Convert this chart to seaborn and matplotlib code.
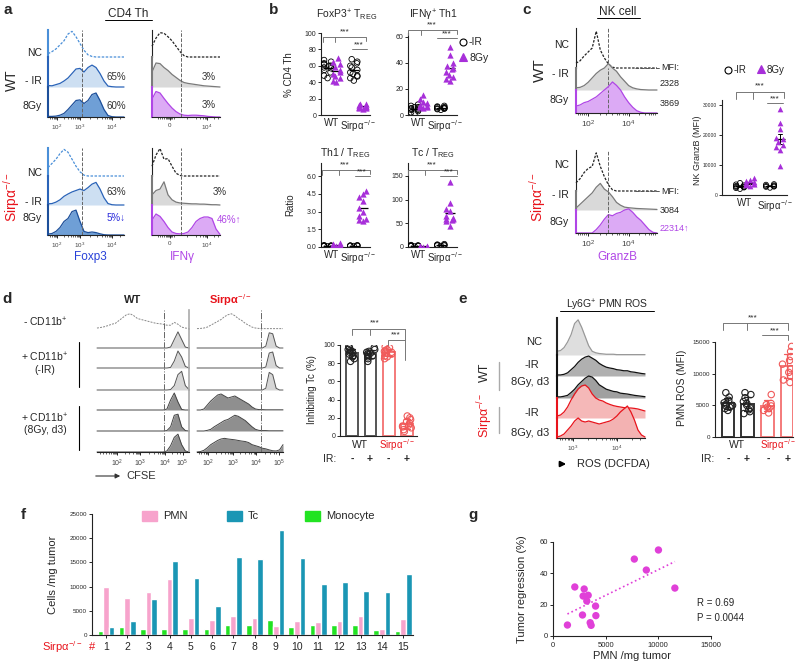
import warnings
warnings.filterwarnings("ignore")
import pandas as pd
import matplotlib
matplotlib.use("Agg")
import matplotlib.pyplot as plt
from matplotlib.lines import Line2D
from matplotlib.patches import Rectangle, FancyArrowPatch
import seaborn as sns

sns.set_style("ticks")
plt.rcParams["font.family"] = ["Liberation Sans", "DejaVu Sans"]
plt.rcParams["mathtext.fontset"] = "custom"
plt.rcParams["mathtext.rm"] = "Liberation Sans"
plt.rcParams["mathtext.it"] = "Liberation Sans:italic"
plt.rcParams["mathtext.bf"] = "Liberation Sans:bold"
plt.rcParams["axes.linewidth"] = 0.8

# ------------------------------------------------------------------ DATA
# panel a : flow histograms (relative heights on a channel grid)
foxp3_ch = [0, 4, 8, 12, 16, 20, 24, 28, 32, 36, 40, 44, 48, 52, 56, 60, 64, 68, 72, 76]
a_wt_nc = [0.12, 0.2, 0.3, 0.45, 0.6, 0.85, 0.95, 0.75, 0.5, 0.25, 0.08, 0.02, 0, 0, 0, 0, 0, 0, 0, 0]
a_wt_ir = [0.05, 0.04, 0.08, 0.12, 0.2, 0.3, 0.45, 0.6, 0.62, 0.5, 0.65, 0.73, 0.65, 0.45, 0.2, 0.03, 0.01, 0, 0, 0]
a_wt_8gy = [0.02, 0.02, 0.03, 0.06, 0.12, 0.25, 0.4, 0.55, 0.57, 0.45, 0.55, 0.75, 0.8, 0.55, 0.25, 0.05, 0.01, 0, 0, 0]
a_ko_nc = [0.3, 0.45, 0.6, 0.8, 0.95, 0.85, 0.6, 0.35, 0.15, 0.03, 0, 0, 0, 0, 0, 0, 0, 0, 0, 0]
a_ko_ir = [0.04, 0.05, 0.1, 0.18, 0.3, 0.38, 0.45, 0.5, 0.55, 0.5, 0.6, 0.72, 0.78, 0.55, 0.25, 0.05, 0.01, 0, 0, 0]
a_ko_8gy = [0.03, 0.05, 0.12, 0.25, 0.45, 0.55, 0.78, 0.83, 0.45, 0.12, 0.08, 0.1, 0.08, 0.04, 0.01, 0, 0, 0, 0, 0]

ifng_ch = [0, 4, 8, 12, 16, 20, 24, 28, 32, 36, 40, 44, 48, 52, 56, 60, 64, 68]
i_wt_nc = [0.4, 0.7, 0.9, 0.88, 0.75, 0.6, 0.4, 0.2, 0.05, 0, 0, 0, 0, 0, 0, 0, 0, 0]
i_wt_ir = [0.5, 0.8, 0.78, 0.65, 0.55, 0.42, 0.32, 0.22, 0.15, 0.12, 0.1, 0.08, 0.06, 0.04, 0.03, 0.02, 0.01, 0]
i_wt_8gy = [0.6, 0.85, 0.8, 0.62, 0.45, 0.3, 0.18, 0.1, 0.06, 0.05, 0.06, 0.06, 0.05, 0.04, 0.02, 0.01, 0, 0]
i_ko_nc = [0.35, 0.75, 0.98, 0.6, 0.62, 0.35, 0.1, 0.02, 0, 0, 0, 0, 0, 0, 0, 0, 0, 0]
i_ko_ir = [0.35, 0.5, 0.55, 0.8, 0.35, 0.18, 0.1, 0.07, 0.06, 0.05, 0.04, 0.04, 0.03, 0.03, 0.02, 0.01, 0.01, 0]
i_ko_8gy = [0.5, 0.7, 0.62, 0.45, 0.25, 0.1, 0.05, 0.04, 0.05, 0.1, 0.25, 0.45, 0.55, 0.6, 0.6, 0.55, 0.2, 0.02]

# panel b : per-mouse values
b_foxp3_wt_ir = [45, 48, 52, 55, 57, 58, 60, 62, 63, 65, 67, 60]
b_foxp3_wt_8gy = [40, 42, 45, 48, 50, 53, 55, 58, 62, 65, 70]
b_foxp3_ko_ir = [42, 45, 47, 48, 50, 52, 55, 58, 60, 63, 65, 68]
b_foxp3_ko_8gy = [7, 8, 9, 10, 10, 11, 12, 13, 14, 10]
b_ifng_wt_ir = [1, 2, 3, 4, 4, 5, 5, 6, 6, 7, 8, 5]
b_ifng_wt_8gy = [5, 6, 7, 7, 8, 9, 10, 12, 15, 6]
b_ifng_ko_ir = [4, 4.5, 5, 5, 5.5, 6, 6, 6.5, 7, 5]
b_ifng_ko_8gy = [26, 28, 29, 31, 33, 35, 36, 38, 40, 46, 52]
b_th1_wt_ir = [0.05, 0.08, 0.1, 0.1, 0.12, 0.15, 0.08, 0.1]
b_th1_wt_8gy = [0.1, 0.15, 0.2, 0.25, 0.3, 0.2, 0.15]
b_th1_ko_ir = [0.08, 0.1, 0.1, 0.12, 0.15, 0.1, 0.1]
b_th1_ko_8gy = [2.2, 2.3, 2.4, 2.6, 3.0, 3.3, 3.9, 4.2, 4.5, 4.7]
b_tc_wt_ir = [1, 2, 2, 3, 3, 4, 2, 3]
b_tc_wt_8gy = [0.5, 1, 1, 1.5, 2, 1]
b_tc_ko_ir = [2, 3, 4, 4, 5, 6, 3]
b_tc_ko_8gy = [45, 55, 57, 58, 60, 62, 65, 75, 80, 92, 138]

# panel c
granzb_ch = [0, 4, 8, 12, 16, 20, 24, 28, 32, 36, 40, 44, 48, 52, 56, 60, 64, 68, 72, 76, 80]
c_wt_nc = [0.12, 0.18, 0.3, 0.4, 0.5, 0.92, 0.45, 0.25, 0.1, 0.02, 0, 0, 0, 0, 0, 0, 0, 0, 0, 0, 0]
c_wt_ir = [0.1, 0.12, 0.2, 0.35, 0.55, 0.75, 0.9, 1.0, 1.2, 1.0, 0.85, 0.6, 0.4, 0.2, 0.1, 0.05, 0.02, 0.01, 0, 0, 0]
c_wt_8gy = [0.3, 0.35, 0.45, 0.5, 0.6, 0.7, 0.85, 1.0, 1.15, 1.35, 1.2, 1.0, 0.7, 0.45, 0.25, 0.1, 0.03, 0, 0, 0, 0]
c_ko_nc = [0.2, 0.3, 0.45, 0.55, 0.6, 0.93, 0.6, 0.35, 0.15, 0.03, 0, 0, 0, 0, 0, 0, 0, 0, 0, 0, 0]
c_ko_ir = [0.1, 0.3, 0.5, 0.7, 0.9, 1.2, 1.4, 1.1, 0.95, 0.7, 0.4, 0.25, 0.15, 0.12, 0.1, 0.08, 0.07, 0.06, 0.05, 0.04, 0.03]
c_ko_8gy = [0, 0, 0, 0, 0, 0.15, 0.35, 0.6, 0.8, 0.75, 0.85, 0.9, 1.0, 1.05, 0.9, 0.7, 0.55, 0.35, 0.15, 0.03, 0]
c_mfi_wt_ir = [2000, 2300, 2500, 2700, 2800, 3000, 3200, 3500, 4000, 2600]
c_mfi_wt_8gy = [3000, 3200, 3500, 3700, 4000, 4200, 4500, 5000, 5500, 3800]
c_mfi_ko_ir = [2400, 2700, 2900, 3000, 3200, 3400, 3600, 2800]
c_mfi_ko_8gy = [9500, 14800, 15800, 16500, 17500, 18500, 19000, 22000, 24000, 28500]

# panel d
cfse_ch = [0, 4, 8, 12, 16, 20, 24, 28, 32, 36, 40, 44, 48, 52, 56, 60, 64, 68, 72, 76, 80, 84, 88, 92, 96, 100]
d_wt_rows = [
    [0.05, 0.08, 0.12, 0.18, 0.25, 0.3, 0.45, 0.6, 0.75, 0.8, 0.7, 0.55, 0.5, 0.45, 0.4, 0.35, 0.3, 0.28, 0.25, 0.2, 0.2, 0.35, 0.25, 0.1, 0.05, 0.03],
    [0, 0, 0, 0, 0, 0, 0, 0, 0, 0, 0, 0, 0, 0, 0, 0, 0, 0, 0, 0, 0.05, 0.45, 0.85, 0.45, 0.05, 0],
    [0, 0, 0, 0, 0, 0, 0, 0, 0, 0, 0, 0, 0, 0, 0, 0, 0, 0, 0, 0, 0.03, 0.35, 0.85, 0.55, 0.08, 0],
    [0, 0, 0, 0, 0, 0, 0, 0, 0, 0, 0, 0, 0, 0, 0, 0, 0, 0, 0, 0, 0.02, 0.2, 0.7, 0.85, 0.2, 0.02],
    [0, 0, 0, 0, 0, 0, 0, 0, 0, 0, 0, 0, 0, 0, 0, 0, 0, 0, 0, 0.05, 0.5, 0.85, 0.4, 0.03, 0, 0],
    [0, 0, 0, 0, 0, 0, 0, 0, 0, 0, 0, 0, 0, 0, 0, 0, 0, 0, 0, 0.02, 0.2, 0.75, 0.8, 0.2, 0.02, 0],
    [0, 0, 0, 0, 0, 0, 0, 0, 0, 0, 0, 0, 0, 0, 0, 0, 0, 0, 0, 0.05, 0.3, 0.7, 0.85, 0.35, 0.05, 0],
]
d_ko_rows = [
    [0.02, 0.03, 0.05, 0.1, 0.2, 0.3, 0.4, 0.5, 0.65, 0.75, 0.8, 0.7, 0.55, 0.45, 0.3, 0.2, 0.1, 0.05, 0.03, 0.02, 0.02, 0.02, 0.02, 0.02, 0.02, 0.02],
    [0, 0, 0, 0, 0, 0, 0, 0, 0, 0, 0, 0, 0, 0, 0, 0, 0, 0, 0, 0, 0.1, 0.8, 0.75, 0.1, 0, 0],
    [0, 0, 0, 0, 0, 0, 0, 0, 0, 0, 0, 0, 0, 0, 0, 0, 0, 0, 0, 0, 0.05, 0.75, 0.8, 0.12, 0, 0],
    [0, 0, 0, 0, 0, 0, 0, 0, 0, 0, 0, 0, 0, 0, 0, 0, 0, 0, 0, 0, 0.08, 0.8, 0.7, 0.08, 0, 0],
    [0, 0, 0.05, 0.25, 0.45, 0.6, 0.75, 0.8, 0.7, 0.6, 0.65, 0.7, 0.6, 0.5, 0.4, 0.3, 0.15, 0.05, 0.02, 0.02, 0.01, 0.01, 0.01, 0.01, 0.01, 0.01],
    [0, 0, 0, 0.03, 0.08, 0.2, 0.3, 0.4, 0.5, 0.55, 0.65, 0.75, 0.7, 0.6, 0.5, 0.35, 0.2, 0.08, 0.03, 0.02, 0.02, 0.01, 0.01, 0.01, 0.01, 0.01],
    [0, 0.02, 0.08, 0.2, 0.35, 0.45, 0.55, 0.62, 0.65, 0.62, 0.6, 0.58, 0.55, 0.52, 0.5, 0.45, 0.35, 0.3, 0.25, 0.18, 0.15, 0.1, 0.06, 0.05, 0.1, 0.35],
]
d_wt_ir = [82, 85, 87, 88, 90, 91, 92, 93, 94, 95, 97, 98]
d_wt_8gy = [82, 85, 87, 88, 89, 90, 91, 92, 93, 95, 97]
d_ko_ir = [85, 87, 88, 90, 91, 92, 93, 94, 95, 97, 98]
d_ko_8gy = [5, 7, 9, 10, 11, 12, 14, 16, 18, 20, 22]

# panel e
ros_ch = [0, 4, 8, 12, 16, 20, 24, 28, 32, 36, 40, 44, 48, 52, 56, 60, 64, 68, 72, 76, 80, 84, 88, 92, 96, 100]
e_nc = [0.1, 0.12, 0.2, 0.35, 0.55, 0.85, 0.95, 0.75, 0.5, 0.25, 0.1, 0.06, 0.04, 0.03, 0.02, 0.02, 0.02, 0.01, 0.01, 0.01, 0.01, 0.01, 0.01, 0.01, 0.01, 0.01]
e_wt_ir = [0.05, 0.05, 0.08, 0.15, 0.3, 0.45, 0.65, 0.8, 0.9, 0.95, 0.85, 0.75, 0.6, 0.5, 0.42, 0.38, 0.35, 0.3, 0.28, 0.25, 0.25, 0.2, 0.18, 0.15, 0.12, 0.1]
e_wt_8gy = [0.05, 0.05, 0.08, 0.12, 0.25, 0.4, 0.6, 0.75, 0.9, 1.0, 0.95, 0.8, 0.6, 0.5, 0.4, 0.35, 0.3, 0.28, 0.22, 0.2, 0.18, 0.15, 0.12, 0.1, 0.08, 0.06]
e_ko_ir = [0.1, 0.15, 0.3, 0.55, 0.9, 1.2, 1.45, 1.6, 1.65, 1.5, 1.2, 1.0, 0.9, 0.85, 0.75, 0.68, 0.62, 0.58, 0.55, 0.52, 0.5, 0.5, 0.48, 0.45, 0.4, 0.35]
e_ko_8gy = [0.05, 0.1, 0.2, 0.4, 0.6, 0.85, 1.0, 0.85, 0.8, 0.85, 0.8, 0.75, 0.7, 0.75, 0.8, 0.85, 0.95, 1.1, 1.3, 1.45, 1.6, 1.3, 0.9, 0.4, 0.15, 0.05]
e_mfi_wt_ir = [4200, 4500, 4700, 4900, 5000, 5200, 5400, 5800, 6300, 7000]
e_mfi_wt_8gy = [3700, 4000, 4300, 4600, 5000, 5300, 5600, 6200, 6700, 7000]
e_mfi_ko_ir = [3800, 4200, 4500, 4700, 4900, 5100, 5300, 6700]
e_mfi_ko_8gy = [8600, 9000, 9600, 10200, 10800, 11500, 12100, 12700, 13500, 14300]

# panel f
f_samples = ["1", "2", "3", "4", "5", "6", "7", "8", "9", "10", "11", "12", "13", "14", "15"]
f_pmn = [10000, 7700, 8900, 11600, 3500, 3100, 3900, 3600, 1900, 2800, 2700, 2900, 4000, 1300, 3300]
f_tc = [1700, 2800, 7400, 15300, 11800, 6000, 16200, 15600, 21600, 16000, 10600, 11000, 9100, 8800, 12700]
f_mono = [850, 1700, 1300, 1300, 1300, 1200, 2000, 2000, 3000, 1600, 2000, 2100, 2000, 1000, 900]

# panel g
g_pmn = [1370, 2070, 2800, 2860, 2960, 3210, 3340, 3530, 3620, 4040, 4070, 7720, 8860, 10010, 11570]
g_regression = [7.0, 31.3, 13.4, 25.5, 30.0, 22.3, 26.0, 8.5, 6.8, 19.1, 13.0, 49.1, 42.1, 54.9, 30.6]

# ------------------------------------------------------------------ STYLE
BL_NC, BL_E, BL_L, BL_D, BL_M = "#4a8fd8", "#2a63b8", "#cddff2", "#1d4f9a", "#6f9fd6"
GR_F, GR_E = "#d9d9d9", "#7a7a7a"
PU_F, PU_E, PU = "#dcaaf5", "#b046e6", "#a72fd9"
RED, SAL = "#e8141c", "#f47a7a"
PMN_C, TC_C, MONO_C, G_C = "#f7a3cc", "#1a96b4", "#22e322", "#e040d8"
SIRP = "Sirpα$^{-/-}$"
DOT = (0, (2, 1.2))

W, H = 799, 662
fig = plt.figure(figsize=(W / 100, H / 100), dpi=100)
fig.patch.set_facecolor("white")


def ax_px(l, t, r, b):
    return fig.add_axes([l / W, 1 - b / H, (r - l) / W, (b - t) / H])


def T(x, y, s, size=7, ha="center", va="center", **kw):
    fig.text(x / W, 1 - y / H, s, fontsize=size, ha=ha, va=va, **kw)


def L(xs, ys, color="k", lw=0.7, ls="-"):
    fig.add_artist(Line2D([x / W for x in xs], [1 - y / H for y in ys], color=color,
                          lw=lw, ls=ls, transform=fig.transFigure))


def M(x, y, marker, color, ms=5, filled=True):
    fig.add_artist(Line2D([x / W], [1 - y / H], marker=marker, ms=ms,
                          mfc=color if filled else "none", mec=color, mew=0.8,
                          ls="none", transform=fig.transFigure))


def hist_row(l, t, r, b, ch, vals, xmax, edge, fill=None, ls="-", lw=0.9,
             left=None, left_lw=1.5, vline=None, vls="--"):
    ax = ax_px(l, t, r, b)
    ax.set_xlim(0, xmax)
    ax.set_ylim(0, 1)
    ax.patch.set_alpha(0)
    for s in ["top", "right", "bottom", "left"]:
        ax.spines[s].set_visible(False)
    if left:
        ax.spines["left"].set_visible(True)
        ax.spines["left"].set_color(left)
        ax.spines["left"].set_linewidth(left_lw)
    ax.set_xticks([])
    ax.set_yticks([])
    if fill:
        ax.fill_between(ch, vals, 0, color=fill, lw=0, clip_on=False)
    ax.plot(ch, vals, color=edge, ls=ls, lw=lw, clip_on=False)
    if vline is not None:
        ax.axvline(vline, color="#666", ls=vls, lw=0.7)
    return ax


def hist_axis(ax, ticks, labels, minor, size=4.5):
    ax.spines["bottom"].set_visible(True)
    ax.spines["bottom"].set_linewidth(0.8)
    ax.spines["bottom"].set_color("#222")
    ax.set_xticks(ticks)
    ax.set_xticklabels(labels, fontsize=size, color="#444")
    ax.set_xticks(minor, minor=True)
    ax.tick_params(axis="x", which="major", length=2.5, width=0.7, pad=1.5)
    ax.tick_params(axis="x", which="minor", length=1.5, width=0.5)


def block(l, r, xmax, rows, ch, curves, styles, vline, ticks, labels, minor, size=4.5, vls="--"):
    axs = [hist_row(l, t, r, b, ch, v, xmax, vline=vline, vls=vls, **st)
           for (t, b), v, st in zip(rows, curves, styles)]
    hist_axis(axs[-1], ticks, labels, minor, size)
    return axs


# ------------------------------------------------------------------ PANEL a
T(8, 10, "a", 11, weight="bold")
T(128, 14, "CD4 Th", 8.5)
L([105, 152], [20, 20])
fox_st = [dict(edge=BL_NC, ls=DOT, left=BL_NC), dict(edge=BL_E, fill=BL_L, left=BL_E),
          dict(edge=BL_D, fill=BL_M, left=BL_D)]
ifn_st = [dict(edge="#222", ls=DOT, left="#222", left_lw=0.8), dict(edge=GR_E, fill=GR_F, left=GR_E),
          dict(edge=PU_E, fill=PU_F, left=PU_E)]
rowsA1 = [(30, 57), (57, 87), (87, 117)]
rowsA2 = [(148, 176), (176, 205), (205, 235)]
fox_ticks, fox_lab = [9, 32, 64], ["$10^{2}$", "$10^{3}$", "$10^{4}$"]
fox_minor = [2, 4, 6, 7, 8, 16, 20, 23, 25, 27, 29, 30, 31, 42, 49, 54, 57, 59, 61, 62, 63, 72]
ifn_ticks, ifn_lab = [18, 55], ["0", "$10^{4}$"]
ifn_minor = [6, 8, 10, 12, 14, 15, 16, 17, 19, 20, 22, 35, 44, 48, 51, 53, 54, 62, 66]
block(48, 124, 76, rowsA1, foxp3_ch, [a_wt_nc, a_wt_ir, a_wt_8gy], fox_st, 34, fox_ticks, fox_lab, fox_minor)
block(48, 124, 76, rowsA2, foxp3_ch, [a_ko_nc, a_ko_ir, a_ko_8gy], fox_st, 34, fox_ticks, fox_lab, fox_minor)
block(152, 220, 68, rowsA1, ifng_ch, [i_wt_nc, i_wt_ir, i_wt_8gy], ifn_st, 29, ifn_ticks, ifn_lab, ifn_minor)
block(152, 220, 68, rowsA2, ifng_ch, [i_ko_nc, i_ko_ir, i_ko_8gy], ifn_st, 29, ifn_ticks, ifn_lab, ifn_minor)
for y, s in [(53, "NC"), (81, "- IR"), (106, "8Gy"), (173, "NC"), (202, "- IR"), (218, "8Gy")]:
    T(42, y, s, 7.5, ha="right", color="#222")
T(12, 80, "WT", 10, rotation=90)
T(12, 197, SIRP, 10, rotation=90, color=RED)
T(116, 77, "65%", 7, color="#333")
T(116, 106, "60%", 7, color="#333")
T(116, 192, "63%", 7, color="#333")
T(116, 218, "5%↓", 7, color="#2b2bdc")
T(209, 77, "3%", 7, color="#333")
T(209, 105, "3%", 7, color="#333")
T(220, 192, "3%", 7, color="#333")
T(229, 220, "46%↑", 7, color=PU_E)
T(90, 257, "Foxp3", 8.5, color="#2740d8")
T(182, 257, "IFNγ", 8.5, color=PU_E)

# ------------------------------------------------------------------ PANEL b
ORD5 = ["WT -IR", "WT 8Gy", "gap", "Sirp -IR", "Sirp 8Gy"]


def style_stat(ax, yticks, ylabels=None, ysize=5):
    sns.despine(ax=ax)
    for s in ["left", "bottom"]:
        ax.spines[s].set_linewidth(0.8)
        ax.spines[s].set_color("#222")
    ax.set_yticks(yticks)
    if ylabels is not None:
        ax.set_yticklabels(ylabels)
    ax.tick_params(axis="y", labelsize=ysize, length=2.5, width=0.7, pad=1)
    ax.set_xlabel("")
    ax.set_ylabel("")


def scatter_panel(box, ylim, xlim, wt_ir, wt_8, ko_ir, ko_8, yticks, ylabels=None,
                  ysize=5, err=None, msize=4):
    ax = ax_px(*box)
    df_ir = pd.DataFrame({"g": ["WT -IR"] * len(wt_ir) + ["Sirp -IR"] * len(ko_ir), "v": wt_ir + ko_ir})
    df_8 = pd.DataFrame({"g": ["WT 8Gy"] * len(wt_8) + ["Sirp 8Gy"] * len(ko_8), "v": wt_8 + ko_8})
    n0 = len(ax.collections)
    sns.swarmplot(data=df_ir, x="g", y="v", order=ORD5, color="k", size=msize, ax=ax)
    for c in ax.collections[n0:]:
        c.set_facecolor("none")
        c.set_edgecolor("k")
        c.set_linewidth(0.6)
    sns.swarmplot(data=df_8, x="g", y="v", order=ORD5, color=PU, marker="^", size=msize + 0.5, ax=ax)
    df_all = pd.concat([df_ir, df_8])
    sns.pointplot(data=df_all, x="g", y="v", order=ORD5, estimator="mean", errorbar=err,
                  capsize=0.4 if err else 0, color="k", marker="_", markersize=7,
                  markeredgewidth=0.9, linestyle="none", err_kws={"linewidth": 0.7}, ax=ax)
    ax.set_ylim(*ylim)
    ax.set_xlim(*xlim)
    style_stat(ax, yticks, ylabels, ysize)
    ax.set_xticks([0.5, 3.5])
    ax.set_xticklabels(["WT", SIRP], fontsize=7)
    ax.tick_params(axis="x", length=0, pad=2)
    return ax


T(274, 10, "b", 11, weight="bold")
XL = (-0.75, 4.85)
scatter_panel((321, 33, 370, 115), (0, 100), XL, b_foxp3_wt_ir, b_foxp3_wt_8gy, b_foxp3_ko_ir,
              b_foxp3_ko_8gy, [0, 20, 40, 60, 80, 100])
scatter_panel((408, 33, 457, 115), (0, 63), XL, b_ifng_wt_ir, b_ifng_wt_8gy, b_ifng_ko_ir,
              b_ifng_ko_8gy, [0, 20, 40, 60])
scatter_panel((321, 163, 370, 247), (0, 7.1), XL, b_th1_wt_ir, b_th1_wt_8gy, b_th1_ko_ir,
              b_th1_ko_8gy, [0, 1.5, 3, 4.5, 6], ["0.0", "1.5", "3.0", "4.5", "6.0"])
scatter_panel((408, 163, 457, 247), (0, 177), XL, b_tc_wt_ir, b_tc_wt_8gy, b_tc_ko_ir,
              b_tc_ko_8gy, [0, 50, 100, 150])
T(347, 15, "FoxP3$^{+}$ T$_{\\mathrm{REG}}$", 7.5)
T(433, 15, "IFNγ$^{+}$ Th1", 7.5)
T(345, 153, "Th1 / T$_{\\mathrm{REG}}$", 7.5)
T(433, 153, "Tc / T$_{\\mathrm{REG}}$", 7.5)
T(289, 75, "% CD4 Th", 7, rotation=90)
T(290, 205, "Ratio", 7, rotation=90)
M(463, 42, "o", "k", 5, False)
T(469, 42, "-IR", 7.5, ha="left")
M(463, 57, "^", PU, 6)
T(469, 58, "8Gy", 7.5, ha="left")
GRB = "#777"
for (x0, xm, x1, y, ts_x, ts_y) in [(323, 335, 366, 37, 345, 32), (408, 421, 457, 30, 432, 25),
                                    (322, 339, 370, 170, 345, 165), (408, 425, 457, 170, 432, 165)]:
    L([x0, x0, x1, x1], [y + 5, y, y, y + 4], color=GRB)
    L([xm, xm], [y, y + 5], color=GRB)
    T(ts_x, ts_y, "***", 6)
for (x0, x1, y, ts_x) in [(352, 367, 49, 359), (437, 457, 38, 447), (355, 370, 176, 362), (440, 457, 176, 449)]:
    L([x0, x1], [y, y], color=GRB)
    T(ts_x, y - 4, "***", 6)

# ------------------------------------------------------------------ PANEL c
T(527, 10, "c", 11, weight="bold")
T(618, 12, "NK cell", 8.5)
L([597, 640], [18, 18])
gz_ticks, gz_lab = [12, 52], ["$10^{2}$", "$10^{4}$"]
gz_minor = [2, 4, 6, 8, 10, 24, 30, 36, 40, 42, 46, 48, 50, 62, 68, 72, 74, 76, 78]
block(576, 657, 80, [(28, 68), (68, 90), (90, 113)], granzb_ch, [c_wt_nc, c_wt_ir, c_wt_8gy],
      ifn_st, 32, gz_ticks, gz_lab, gz_minor, size=6)
block(576, 657, 80, [(150, 191), (191, 210), (210, 233)], granzb_ch, [c_ko_nc, c_ko_ir, c_ko_8gy],
      ifn_st, 32, gz_ticks, gz_lab, gz_minor, size=6)
for y, s in [(45, "NC"), (74, "- IR"), (100, "8Gy"), (165, "NC"), (195, "- IR"), (222, "8Gy")]:
    T(569, y, s, 7.5, ha="right", color="#222")
T(540, 70, "WT", 11, rotation=90)
T(538, 197, SIRP, 10, rotation=90, color=RED)
L([635, 660], [68, 68], ls="--", color="#555")
L([635, 660], [191, 191], ls="--", color="#555")
T(670, 68, "MFI:", 6.5)
T(670, 83, "2328", 6.5)
T(670, 103, "3869", 6.5)
T(670, 192, "MFI:", 6.5)
T(670, 211, "3084", 6.5)
T(674, 228, "22314↑", 6.5, color=PU_E)
T(617, 257, "GranzB", 8.5, color=PU_E)
scatter_panel((722, 100, 787, 195), (0, 31500), (-1.8, 4.7), c_mfi_wt_ir, c_mfi_wt_8gy, c_mfi_ko_ir,
              c_mfi_ko_8gy, [0, 10000, 20000, 30000], ysize=3.6, err="se", msize=3.6)
T(698, 150, "NK GranzB (MFI)", 6.5, rotation=90)
M(728, 70, "o", "k", 5, False)
T(734, 70, "-IR", 7, ha="left")
M(761, 69, "^", PU, 6)
T(767, 70, "8Gy", 7, ha="left")
L([736, 736, 784, 784], [99, 92, 92, 98], color=GRB)
L([753, 753], [92, 99], color=GRB)
T(760, 86, "***", 6)
L([767, 783], [103, 103], color=GRB)
T(775, 99, "***", 6)

# ------------------------------------------------------------------ PANEL d
T(7, 299, "d", 11, weight="bold")
T(133, 300, "WT", 8, weight="bold")
T(230, 300, SIRP, 8, weight="bold", color=RED)
d_rows = [(310, 329), (329, 348), (348, 368), (368, 390), (390, 410), (410, 431), (431, 452)]
d_st = ([dict(edge="#888", ls=DOT, lw=0.7)] + [dict(edge="#555", fill="#d6d6d6", lw=0.7)] * 3 +
        [dict(edge="#444", fill="#8f8f8f", lw=0.7)] * 3)
cf_lab = ["$10^{2}$", "$10^{3}$", "$10^{4}$", "$10^{5}$"]
wt_axes = block(97, 189, 100, d_rows, cfse_ch, d_wt_rows, d_st, 73, [22, 47, 74, 93], cf_lab,
                [3, 7, 10, 13, 15, 17, 19, 20, 21, 30, 35, 39, 42, 44, 45, 46, 56, 62, 66, 69, 71, 72, 73, 82, 87, 90],
                size=5, vls="-.")
for a_ in wt_axes:
    a_.spines["right"].set_visible(True)
    a_.spines["right"].set_color("#aaa")
    a_.spines["right"].set_linewidth(1.2)
block(197, 283, 100, d_rows, cfse_ch, d_ko_rows, d_st, 74, [13, 42, 69, 95], cf_lab,
      [2, 5, 8, 10, 11, 12, 22, 28, 33, 36, 38, 40, 41, 50, 56, 60, 63, 66, 67, 68, 79, 85, 89, 92],
      size=5, vls="-.")
T(45, 322, "- CD11b$^{+}$", 7.5)
T(45, 357, "+ CD11b$^{+}$", 7.5)
T(45, 370, "(-IR)", 7.5)
T(45, 418, "+ CD11b$^{+}$", 7.5)
T(45, 430, "(8Gy, d3)", 7.5)
L([79, 79], [342, 387], lw=0.8)
L([79, 79], [406, 450], lw=0.8)
fig.add_artist(FancyArrowPatch((93 / W, 1 - 476 / H), (123 / W, 1 - 476 / H), transform=fig.transFigure,
                               arrowstyle="-|>", mutation_scale=7, lw=0.8, color="#333"))
T(126, 476, "CFSE", 8, ha="left", color="#333")

ORD4 = ["WT -", "WT +", "Sirp -", "Sirp +"]


def bar_panel(box, ylim, xlim, wt_m, wt_p, ko_m, ko_p, yticks, ysize=5, wt_col="#555"):
    ax = ax_px(*box)
    for labs, vals, col, pcol in [(("WT -", "WT +"), (wt_m, wt_p), wt_col, "#222"),
                                  (("Sirp -", "Sirp +"), (ko_m, ko_p), SAL, "#f05a5a")]:
        df = pd.DataFrame({"g": [labs[0]] * len(vals[0]) + [labs[1]] * len(vals[1]),
                           "v": vals[0] + vals[1]})
        sns.barplot(data=df, x="g", y="v", order=ORD4, color=col, fill=False, errorbar="sd",
                    capsize=0.35, err_kws={"color": pcol, "linewidth": 0.9}, linewidth=1.4,
                    width=0.64, ax=ax)
        n0 = len(ax.collections)
        sns.stripplot(data=df, x="g", y="v", order=ORD4, color=pcol, size=4.6, jitter=0.24, ax=ax)
        for c in ax.collections[n0:]:
            c.set_facecolor("none")
            c.set_edgecolor(pcol)
            c.set_linewidth(0.8)
    ax.set_ylim(*ylim)
    ax.set_xlim(*xlim)
    style_stat(ax, yticks, None, ysize)
    ax.set_xticks([])
    return ax


bar_panel((340, 345, 417, 436), (0, 100), (-0.67, 3.55), d_wt_ir, d_wt_8gy, d_ko_ir, d_ko_8gy,
          [0, 20, 40, 60, 80, 100])
T(312, 390, "Inhibiting Tc (%)", 7, rotation=90)
T(360, 445, "WT", 7.5)
T(397, 445, SIRP, 7, color=RED)
T(330, 459, "IR:", 7.5)
for x, s in [(352, "-"), (370, "+"), (388, "-"), (407, "+")]:
    T(x, 459, s, 7.5, weight="bold")
L([352, 352, 405, 405], [335, 329, 329, 360], color=GRB)
L([370, 370], [329, 335], color=GRB)
T(375, 323, "***", 6)
L([388, 388, 405], [345, 340, 340], color=GRB)
T(396, 335, "***", 6)

# ------------------------------------------------------------------ PANEL e
T(463, 299, "e", 11, weight="bold")
T(607, 305, "Ly6G$^{+}$ PMN ROS", 7.5)
L([560, 654], [311, 311])
e_rows = [(318, 355), (355, 376), (376, 398), (398, 418), (418, 438)]
e_st = [dict(edge="#999", fill="#dedede", left="#222"), dict(edge="#111", fill="#b0b0b0", left="#111"),
        dict(edge="#111", fill="#a0a0a0", left="#111"), dict(edge=RED, fill="#f5b8b8", left=RED),
        dict(edge=RED, fill="#f3b2b2", left=RED)]
block(557, 645, 100, e_rows, ros_ch, [e_nc, e_wt_ir, e_wt_8gy, e_ko_ir, e_ko_8gy], e_st, None,
      [18, 68], ["$10^{3}$", "$10^{4}$"],
      [3, 6, 9, 12, 14, 16, 17, 35, 44, 51, 56, 60, 63, 65, 67, 85, 94], size=4.5)
T(534, 342, "NC", 8)
T(532, 365, "-IR", 8)
T(530, 382, "8Gy, d3", 8)
T(532, 413, "-IR", 8)
T(530, 433, "8Gy, d3", 8)
T(485, 372, "WT", 9, rotation=90)
T(485, 415, SIRP, 9, rotation=90, color=RED)
L([499, 499], [362, 390], color="#aaa", lw=1)
L([499, 499], [407, 433], color="#aaa", lw=1)
fig.add_artist(FancyArrowPatch((557 / W, 1 - 464 / H), (569 / W, 1 - 464 / H), transform=fig.transFigure,
                               arrowstyle="-|>", mutation_scale=8, lw=1.4, color="k"))
T(577, 464, "ROS (DCFDA)", 8, ha="left")
bar_panel((715, 342, 793, 437), (0, 15000), (-0.65, 3.3), e_mfi_wt_ir, e_mfi_wt_8gy, e_mfi_ko_ir,
          e_mfi_ko_8gy, [0, 5000, 10000, 15000], ysize=4.5, wt_col="#333")
T(682, 388, "PMN ROS (MFI)", 7.5, rotation=90)
T(737, 445, "WT", 7.5)
T(778, 445, SIRP, 7, color=RED)
T(708, 459, "IR:", 7.5)
for x, s in [(728, "-"), (747, "+"), (768, "-"), (788, "+")]:
    T(x, 459, s, 7.5, weight="bold")
L([723, 723, 788, 788], [330, 323, 323, 330], color=GRB)
L([747, 747], [323, 330], color=GRB)
T(753, 318, "***", 6)
L([762, 788, 788], [335, 335, 340], color=GRB)
T(775, 331, "***", 6)

# ------------------------------------------------------------------ PANEL f
T(23, 515, "f", 11, weight="bold")
axf = ax_px(92, 514, 413, 635)
df_f = pd.DataFrame({"sample": f_samples * 3,
                     "cell": ["Monocyte"] * len(f_mono) + ["PMN"] * len(f_pmn) + ["Tc"] * len(f_tc),
                     "value": f_mono + f_pmn + f_tc})
sns.barplot(data=df_f, x="sample", y="value", hue="cell", hue_order=["Monocyte", "PMN", "Tc"],
            order=f_samples, palette={"Monocyte": MONO_C, "PMN": PMN_C, "Tc": TC_C},
            errorbar=None, width=0.8, saturation=1, legend=False, ax=axf)
axf.set_ylim(0, 25000)
axf.set_xlim(-0.66, 14.47)
style_stat(axf, [0, 5000, 10000, 15000, 20000, 25000], None, 4.5)
axf.tick_params(axis="x", labelsize=7.5, length=2, width=0.7, pad=3)
T(53, 575, "Cells /mg tumor", 8, rotation=90)
T(62, 647, SIRP, 8, color=RED)
T(92, 647, "#", 8, color=RED)
for x, col, lab in [(142, PMN_C, "PMN"), (227, TC_C, "Tc"), (305, MONO_C, "Monocyte")]:
    fig.add_artist(Rectangle((x / W, 1 - 521 / H), 15 / W, 10 / H, color=col, transform=fig.transFigure))
    T(x + 21, 516, lab, 8, ha="left")

# ------------------------------------------------------------------ PANEL g
T(473, 515, "g", 11, weight="bold")
axg = ax_px(553, 542, 711, 636)
sns.regplot(x=g_pmn, y=g_regression, ci=None, ax=axg,
            scatter_kws=dict(s=28, color=G_C, edgecolor="none", alpha=1),
            line_kws=dict(color=G_C, ls=":", lw=1.2))
axg.set_xlim(0, 15000)
axg.set_ylim(0, 60)
style_stat(axg, [0, 20, 40, 60], None, 5.5)
axg.set_xticks([0, 5000, 10000, 15000])
axg.tick_params(axis="x", labelsize=5.5, length=2.5, width=0.7, pad=1.5)
T(522, 589, "Tumor regression (%)", 8, rotation=90)
T(632, 656, "PMN /mg tumor", 8)
T(697, 603, "R = 0.69", 7, ha="left")
T(697, 618, "P = 0.0044", 7, ha="left")

fig.savefig("out.png", dpi=100)
